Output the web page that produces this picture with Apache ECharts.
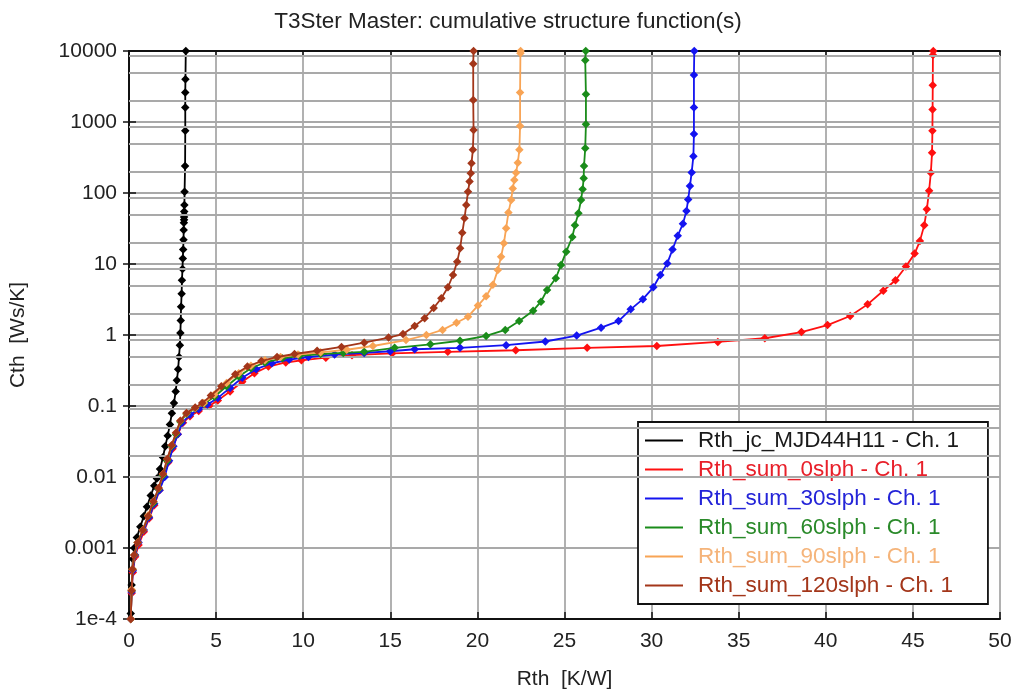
<!DOCTYPE html>
<html>
<head>
<meta charset="utf-8">
<title>T3Ster Master: cumulative structure function(s)</title>
<script src="https://cdn.jsdelivr.net/npm/echarts@6/dist/echarts.min.js"></script>
<style>
  html, body { margin: 0; padding: 0; background: #fff; }
  #chart { width: 1016px; height: 695px; }
</style>
</head>
<body>
<div id="chart"></div>
<script>
// values: [Rth K/W, Cth Ws/K]
const rthJc = [
  [0.10, 1.2e-4], [0.15, 3e-4], [0.22, 7e-4], [0.30, 0.001], [0.45, 0.0014], [0.65, 0.002],
  [0.85, 0.0028], [1.03, 0.0038], [1.25, 0.0055], [1.45, 0.0075], [1.60, 0.0095], [1.78, 0.013],
  [1.95, 0.019], [2.08, 0.027], [2.22, 0.038], [2.35, 0.055], [2.46, 0.079], [2.58, 0.11],
  [2.68, 0.16], [2.75, 0.23], [2.82, 0.33], [2.87, 0.49], [2.92, 0.72], [2.95, 1.07],
  [2.97, 1.6], [2.99, 2.5], [3.02, 3.8], [3.04, 5.9], [3.07, 8.5], [3.09, 12], [3.11, 16],
  [3.13, 22], [3.14, 30], [3.15, 38], [3.16, 42], [3.16, 46], [3.17, 49], [3.17, 55],
  [3.18, 68], [3.19, 104], [3.22, 240], [3.23, 750], [3.23, 1600], [3.23, 2600], [3.24, 4000],
  [3.26, 10000]
]
const rthSum0 = [
  [0.10, 1e-4], [0.15, 2.3e-4], [0.22, 4.5e-4], [0.35, 7.5e-4], [0.55, 0.0011], [0.85, 0.0017],
  [1.15, 0.0026], [1.45, 0.004], [1.75, 0.0065], [2.0, 0.01], [2.25, 0.016], [2.5, 0.025],
  [2.8, 0.04], [3.1, 0.058], [3.5, 0.072], [4.0, 0.085], [4.6, 0.1], [5.1, 0.12], [5.8, 0.16],
  [6.5, 0.22], [7.2, 0.29], [8.0, 0.36], [9.0, 0.41], [9.9, 0.44], [11.3, 0.48], [12.8, 0.52],
  [15.1, 0.55], [18.3, 0.58], [22.2, 0.61], [26.3, 0.66], [30.3, 0.70], [33.8, 0.80],
  [36.5, 0.90], [38.6, 1.1], [40.1, 1.38], [41.4, 1.85], [42.4, 2.7], [43.3, 4.2], [44.0, 5.9],
  [44.6, 9.2], [45.1, 14], [45.4, 21], [45.65, 35], [45.8, 59], [45.93, 108], [46.03, 193],
  [46.1, 370], [46.12, 750], [46.13, 1500], [46.14, 3300], [46.15, 8800], [46.17, 10000]
]
const rthSum30 = [
  [0.10, 1e-4], [0.15, 2.4e-4], [0.22, 4.8e-4], [0.35, 8e-4], [0.55, 0.0012], [0.85, 0.0018],
  [1.15, 0.0027], [1.45, 0.0042], [1.75, 0.0065], [2.05, 0.01], [2.3, 0.017], [2.55, 0.027],
  [2.8, 0.04], [3.05, 0.058], [3.5, 0.075], [4.0, 0.09], [4.5, 0.105], [5.1, 0.13], [5.8, 0.18],
  [6.5, 0.25], [7.3, 0.33], [8.2, 0.4], [9.2, 0.45], [10.3, 0.49], [11.8, 0.53], [13.5, 0.56],
  [15.0, 0.59], [16.4, 0.63], [19.0, 0.66], [21.65, 0.72], [23.9, 0.81], [25.7, 0.98],
  [27.1, 1.27], [28.1, 1.57], [28.8, 2.3], [29.5, 3.2], [30.1, 4.7], [30.5, 7.0], [30.9, 10.2],
  [31.2, 16], [31.5, 25], [31.8, 37], [32.0, 56], [32.1, 81], [32.2, 125], [32.3, 195],
  [32.4, 330], [32.43, 680], [32.43, 1600], [32.43, 4600], [32.45, 10000]
]
const rthSum60 = [
  [0.10, 1e-4], [0.15, 2.5e-4], [0.2, 5e-4], [0.32, 8e-4], [0.5, 0.0012], [0.8, 0.0018],
  [1.1, 0.0028], [1.4, 0.0043], [1.7, 0.0068], [1.95, 0.0105], [2.2, 0.017], [2.45, 0.027],
  [2.7, 0.04], [2.95, 0.06], [3.3, 0.077], [3.8, 0.092], [4.3, 0.108], [4.9, 0.135], [5.6, 0.19],
  [6.3, 0.26], [7.0, 0.34], [7.8, 0.41], [8.8, 0.47], [9.8, 0.51], [11.0, 0.54], [12.3, 0.56],
  [13.5, 0.58], [15.25, 0.66], [17.3, 0.74], [19.0, 0.83], [20.5, 0.97], [21.6, 1.18],
  [22.4, 1.57], [23.2, 2.2], [23.65, 2.95], [24.0, 4.3], [24.5, 6.3], [24.8, 9.7], [25.1, 14.9],
  [25.45, 24], [25.6, 35], [25.8, 52], [25.95, 80], [26.04, 113], [26.1, 161], [26.12, 240],
  [26.19, 427], [26.23, 930], [26.23, 2460], [26.19, 7400], [26.22, 10000]
]
const rthSum90 = [
  [0.10, 1e-4], [0.15, 2.6e-4], [0.2, 5e-4], [0.3, 8e-4], [0.5, 0.0012], [0.8, 0.0018],
  [1.1, 0.0029], [1.4, 0.0045], [1.7, 0.007], [1.95, 0.011], [2.2, 0.018], [2.45, 0.028],
  [2.7, 0.042], [2.95, 0.062], [3.3, 0.079], [3.8, 0.094], [4.3, 0.11], [4.9, 0.145], [5.6, 0.21],
  [6.3, 0.29], [7.0, 0.37], [7.8, 0.44], [8.7, 0.49], [9.7, 0.53], [11.0, 0.57], [12.5, 0.62],
  [14.0, 0.7], [15.9, 0.85], [17.07, 1.0], [18.0, 1.18], [18.8, 1.49], [19.46, 1.81],
  [20.03, 2.6], [20.5, 3.5], [20.89, 5.1], [21.17, 8.2], [21.36, 12.7], [21.52, 19.6],
  [21.65, 32], [21.78, 53], [21.94, 80], [22.03, 116], [22.12, 152], [22.22, 193], [22.32, 267],
  [22.41, 405], [22.45, 880], [22.45, 2600], [22.47, 9300], [22.48, 10000]
]
const rthSum120 = [
  [0.10, 1e-4], [0.15, 2.5e-4], [0.2, 5e-4], [0.3, 8e-4], [0.5, 0.0012], [0.8, 0.0018],
  [1.1, 0.0028], [1.4, 0.0045], [1.7, 0.007], [1.95, 0.011], [2.2, 0.018], [2.45, 0.028],
  [2.7, 0.042], [2.95, 0.062], [3.3, 0.08], [3.8, 0.095], [4.2, 0.11], [4.7, 0.14], [5.3, 0.19],
  [6.1, 0.28], [6.8, 0.36], [7.6, 0.43], [8.5, 0.49], [9.5, 0.54], [10.8, 0.6], [12.2, 0.68],
  [13.5, 0.78], [14.9, 0.92], [15.73, 1.03], [16.4, 1.34], [16.97, 1.72], [17.49, 2.4],
  [17.93, 3.3], [18.31, 4.7], [18.6, 7.0], [18.84, 10.8], [19.01, 16.6], [19.13, 27.5],
  [19.26, 44], [19.36, 68], [19.46, 104], [19.55, 145], [19.62, 190], [19.66, 262],
  [19.74, 405], [19.78, 770], [19.76, 2040], [19.76, 6600], [19.78, 10000]
]

const seriesNames = [
  'Rth_jc_MJD44H11 - Ch. 1',
  'Rth_sum_0slph - Ch. 1',
  'Rth_sum_30slph - Ch. 1',
  'Rth_sum_60slph - Ch. 1',
  'Rth_sum_90slph - Ch. 1',
  'Rth_sum_120slph - Ch. 1'
]
const seriesData = [rthJc, rthSum0, rthSum30, rthSum60, rthSum90, rthSum120]
const seriesColors = ['#000000', '#ff1010', '#1414f0', '#1a8c1a', '#f8a455', '#a3361a']
const legendColors = ['#1a1a1a', '#e8202a', '#2424d8', '#2a8a2a', '#f5b47a', '#a3361a']

// horizontal grid levels between the decades
const minorGridLevels = []
for (let k = -4; k <= 3; k++) {
  minorGridLevels.push(2 * 10 ** k, 5 * 10 ** k, 8.5 * 10 ** k)
}

const font = '"Liberation Sans", Arial, sans-serif'
const gridGray = '#a9a9a9'

const fmtY = v => {
  const e = Math.round(Math.log10(v))
  if (e <= -4) return '1e' + e
  if (e < 0) return (10 ** e).toFixed(-e)
  return String(10 ** e)
}

const chart = echarts.init(document.getElementById('chart'))

const series = seriesData.map((d, i) => ({
  name: seriesNames[i],
  type: 'line',
  data: d,
  z: 3 + i,
  color: seriesColors[i],
  symbol: 'diamond',
  symbolSize: 8.5,
  showSymbol: true,
  lineStyle: { width: 1.8, color: seriesColors[i] },
  itemStyle: { color: seriesColors[i] },
  silent: true,
  animation: false
}))

// helper series carrying the extra horizontal grid lines
series.unshift({
  name: 'grid',
  type: 'line',
  data: [[0, 1e-4]],
  symbol: 'none',
  lineStyle: { opacity: 0 },
  z: 1,
  silent: true,
  animation: false,
  markLine: {
    silent: true,
    symbol: 'none',
    label: { show: false },
    lineStyle: { color: gridGray, width: 1.8, type: 'solid' },
    data: minorGridLevels.map(v => ({ yAxis: v })),
    animation: false
  }
})

chart.setOption({
  animation: false,
  backgroundColor: '#fff',
  title: {
    text: 'T3Ster Master: cumulative structure function(s)',
    left: 'center',
    top: 5,
    textStyle: { fontFamily: font, fontSize: 22.5, fontWeight: 'normal', color: '#222' }
  },
  grid: { left: 127, right: 16, top: 51, bottom: 76 },
  legend: {
    orient: 'vertical',
    left: 638,
    top: 422,
    data: seriesNames.map((n, i) => ({ name: n, textStyle: { color: legendColors[i] } })),
    icon: 'rect',
    itemWidth: 38,
    itemHeight: 2,
    itemGap: 6,
    padding: [7, 29, 7, 7],
    backgroundColor: '#fff',
    borderColor: '#111',
    borderWidth: 1.8,
    borderRadius: 0,
    selectedMode: false,
    textStyle: { fontFamily: font, fontSize: 22.5, padding: [0, 0, 0, 10], lineHeight: 22 }
  },
  xAxis: [
    {
      type: 'value',
      min: 0,
      max: 50,
      interval: 5,
      name: 'Rth  [K/W]',
      nameLocation: 'middle',
      nameGap: 50,
      nameTextStyle: { fontFamily: font, fontSize: 21, color: '#222' },
      axisLine: { lineStyle: { color: '#111', width: 2 } },
      axisTick: { inside: true, length: 7, lineStyle: { color: '#111', width: 1.5 } },
      axisLabel: { fontFamily: font, fontSize: 21, color: '#222', margin: 12 },
      splitLine: { show: true, lineStyle: { color: gridGray, width: 1.8 } }
    },
    {
      type: 'value',
      position: 'top',
      min: 0,
      max: 50,
      interval: 5,
      axisLine: { show: true, lineStyle: { color: '#111', width: 2 } },
      axisTick: { inside: true, length: 5, lineStyle: { color: '#111', width: 1.5 } },
      axisLabel: { show: false },
      splitLine: { show: false }
    }
  ],
  yAxis: [
    {
      type: 'log',
      logBase: 10,
      min: 1e-4,
      max: 1e4,
      name: 'Cth  [Ws/K]',
      nameLocation: 'middle',
      nameGap: 100,
      nameTextStyle: { fontFamily: font, fontSize: 21, color: '#222' },
      axisLine: { show: true, lineStyle: { color: '#111', width: 2 } },
      axisTick: { show: true, inside: true, length: 7, lineStyle: { color: '#111', width: 1.5 } },
      axisLabel: { fontFamily: font, fontSize: 21, color: '#222', margin: 12, formatter: fmtY },
      splitLine: { show: true, lineStyle: { color: gridGray, width: 1.8 } }
    },
    {
      type: 'log',
      logBase: 10,
      min: 1e-4,
      max: 1e4,
      position: 'right',
      axisLine: { show: true, lineStyle: { color: '#111', width: 2 } },
      axisTick: { show: true, inside: true, length: 6, lineStyle: { color: '#111', width: 1.5 } },
      axisLabel: { show: false },
      splitLine: { show: false }
    }
  ],
  series
})
</script>
</body>
</html>
